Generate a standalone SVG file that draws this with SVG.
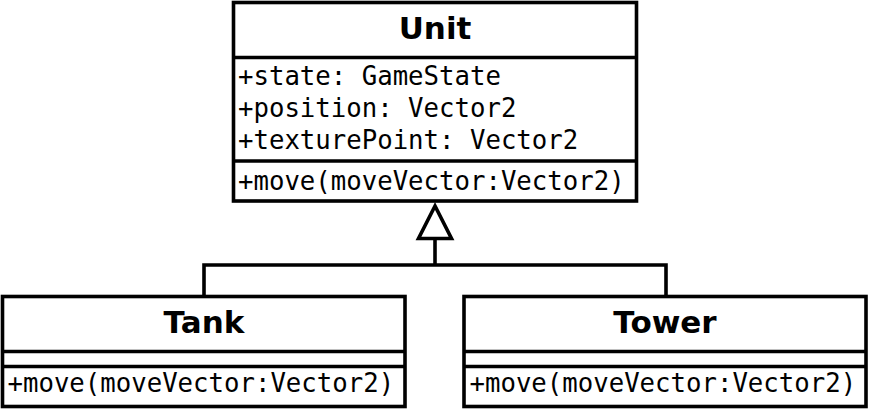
<svg xmlns="http://www.w3.org/2000/svg" width="872" height="410" viewBox="0 0 872 410">
<style>
.box{fill:#fff;stroke:#000;stroke-width:3.6}
.sep{stroke:#000;stroke-width:3.6}
.title{font-family:"DejaVu Sans",sans-serif;font-weight:bold;font-size:31px;text-anchor:middle;fill:#000}
.mem{font-family:"DejaVu Sans Mono",monospace;font-size:25.7px;fill:#000}
.conn{fill:none;stroke:#000;stroke-width:3.6}
</style>
<rect width="872" height="410" fill="#fff"/>
<g id="connectors">
<polyline class="conn" points="204,296.5 204,265 666,265 666,296.5"/>
<line class="conn" x1="435" y1="265" x2="435" y2="238"/>
<polygon class="conn" points="435,206 418.5,238.5 451.5,238.5" style="fill:#fff"/>
</g>
<g id="unit">
<rect class="box" x="233.5" y="2.5" width="403" height="198.5"/>
<line class="sep" x1="233.5" y1="57.5" x2="636.5" y2="57.5"/>
<line class="sep" x1="233.5" y1="161" x2="636.5" y2="161"/>
<text class="title" x="435" y="39">Unit</text>
<text class="mem" x="238" y="85">+state: GameState</text>
<text class="mem" x="238" y="117">+position: Vector2</text>
<text class="mem" x="238" y="149">+texturePoint: Vector2</text>
<text class="mem" x="238" y="190">+move(moveVector:Vector2)</text>
</g>
<g id="tank">
<rect class="box" x="2.5" y="296.5" width="402.5" height="110"/>
<line class="sep" x1="2.5" y1="351.5" x2="405" y2="351.5"/>
<line class="sep" x1="2.5" y1="366.5" x2="405" y2="366.5"/>
<text class="title" x="204" y="333">Tank</text>
<text class="mem" x="7.5" y="392">+move(moveVector:Vector2)</text>
</g>
<g id="tower">
<rect class="box" x="464" y="296.5" width="402" height="110"/>
<line class="sep" x1="464" y1="351.5" x2="866" y2="351.5"/>
<line class="sep" x1="464" y1="366.5" x2="866" y2="366.5"/>
<text class="title" x="665" y="333">Tower</text>
<text class="mem" x="469.5" y="392">+move(moveVector:Vector2)</text>
</g>
</svg>
